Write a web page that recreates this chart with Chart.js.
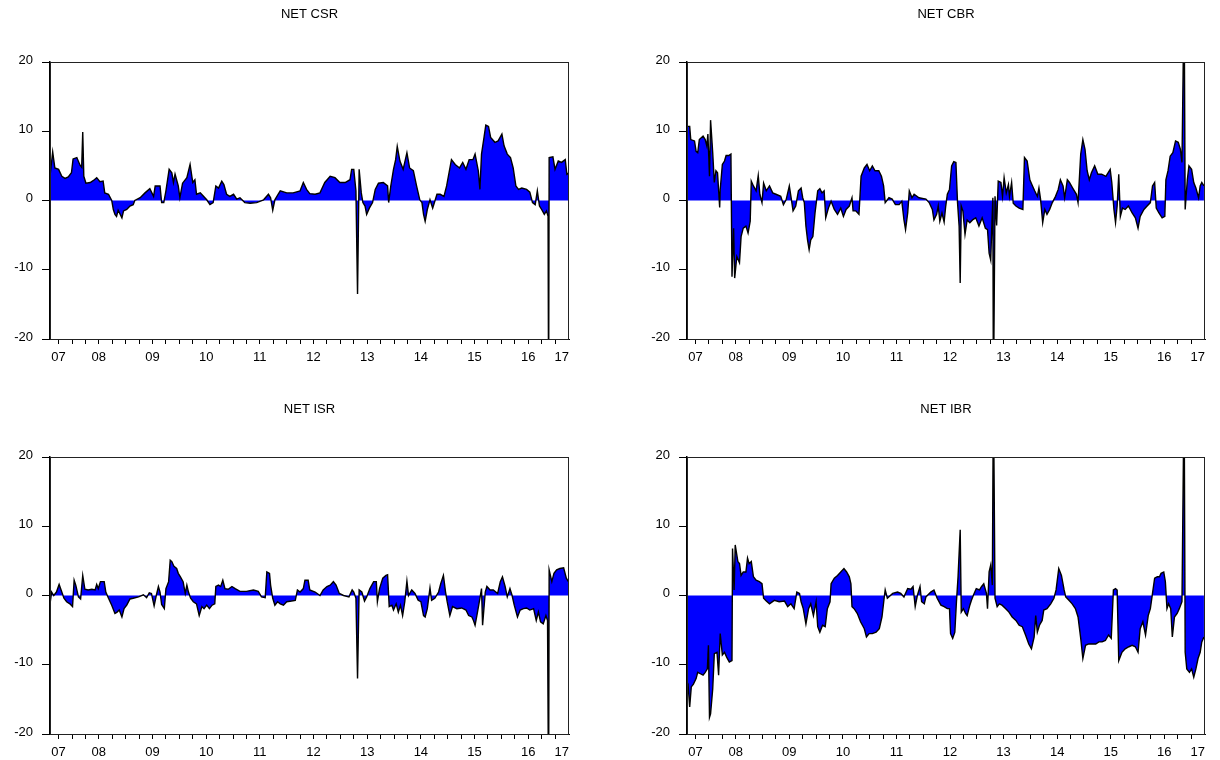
<!DOCTYPE html>
<html><head><meta charset="utf-8">
<script src="https://cdn.jsdelivr.net/npm/chart.js@4.4.0/dist/chart.umd.min.js"></script>
<style>
html,body{margin:0;padding:0;background:#fff;width:1220px;height:760px;overflow:hidden;}
canvas{position:absolute;}
</style></head><body>
<canvas id="c1" width="610" height="380" style="left:0;top:0"></canvas>
<canvas id="c2" width="583" height="380" style="left:637px;top:0"></canvas>
<canvas id="c3" width="610" height="380" style="left:0;top:395px"></canvas>
<canvas id="c4" width="583" height="380" style="left:637px;top:395px"></canvas>
<script>
// ---- axis labels ----
const yearLabels = ['07','08','09','10','11','12','13','14','15','16','17'];
const yearLabelPos = [2007.75,2008.5,2009.5,2010.5,2011.5,2012.5,2013.5,2014.5,2015.5,2016.5,2017.125];
const xMin = 2007.59, xMax = 2017.26;
const yTicks = [-20,-10,0,10,20];

// ---- NET CSR ----
const csrDates = [2007.59,2007.64,2007.68,2007.75,2007.81,2007.87,2007.93,2007.99,2008.02,2008.09,2008.15,2008.18,2008.20,2008.22,2008.26,2008.34,2008.40,2008.46,2008.52,2008.58,2008.61,2008.68,2008.74,2008.77,2008.80,2008.83,2008.86,2008.93,2008.96,2009.02,2009.08,2009.14,2009.17,2009.27,2009.36,2009.45,2009.52,2009.55,2009.64,2009.67,2009.71,2009.75,2009.81,2009.86,2009.89,2009.92,2009.98,2010.01,2010.06,2010.14,2010.20,2010.25,2010.29,2010.32,2010.39,2010.45,2010.51,2010.57,2010.63,2010.68,2010.73,2010.79,2010.83,2010.88,2010.94,2011.01,2011.07,2011.13,2011.22,2011.32,2011.44,2011.57,2011.66,2011.70,2011.74,2011.78,2011.84,2011.88,2012.00,2012.12,2012.25,2012.31,2012.37,2012.43,2012.53,2012.62,2012.71,2012.81,2012.90,2012.99,2013.09,2013.18,2013.21,2013.25,2013.29,2013.32,2013.35,2013.39,2013.42,2013.46,2013.49,2013.54,2013.60,2013.65,2013.71,2013.80,2013.88,2013.90,2013.94,2013.99,2014.03,2014.06,2014.11,2014.17,2014.24,2014.29,2014.36,2014.42,2014.48,2014.52,2014.55,2014.58,2014.62,2014.67,2014.72,2014.80,2014.86,2014.93,2014.98,2015.07,2015.14,2015.22,2015.28,2015.34,2015.40,2015.47,2015.51,2015.57,2015.60,2015.63,2015.68,2015.71,2015.76,2015.80,2015.88,2015.94,2016.01,2016.05,2016.11,2016.17,2016.22,2016.27,2016.32,2016.38,2016.47,2016.53,2016.58,2016.63,2016.67,2016.71,2016.75,2016.80,2016.84,2016.87,2016.88,2016.89,2016.96,2017.00,2017.06,2017.12,2017.19,2017.22,2017.26];
const csrValues = [3.5,7.0,4.7,4.5,3.5,3.2,3.4,4.0,6.0,6.2,5.1,4.8,9.9,3.5,2.5,2.6,2.9,3.3,2.7,2.8,1.1,0.9,0.0,-1.3,-2.0,-2.3,-1.4,-2.5,-1.5,-1.3,-0.8,-0.6,0,0.4,1.1,1.7,0.6,2.1,2.1,-0.3,-0.3,1.4,4.5,4.0,2.6,3.8,2.1,0.4,2.5,3.3,5.2,2.6,3.0,0.9,1.1,0.6,0.1,-0.6,-0.3,2.1,1.8,2.8,2.3,0.9,0.6,0.9,0.2,0.4,-0.3,-0.4,-0.3,0.1,0.9,0.4,-1.4,0.1,0.9,1.4,1.1,1.1,1.4,2.6,1.6,1.0,0.9,1.1,2.6,3.5,3.3,2.6,2.6,3.0,4.5,4.5,1.4,-13.5,4.5,1.1,-0.3,-0.8,-2.0,-1.1,-0.3,1.6,2.5,2.6,2.1,-0.3,2.1,4.5,5.9,7.8,5.7,4.5,6.9,4.7,4.3,2.1,0.1,-0.3,-2.0,-3.0,-1.3,0.1,-1.1,0.9,0.9,0.6,2.1,5.9,5.2,4.7,5.5,4.5,5.9,5.9,6.7,4.3,1.6,6.7,9.3,10.9,10.7,9.1,8.4,8.6,9.6,7.9,6.7,6.2,4.7,2.1,1.6,1.8,1.6,1.2,-0.3,-0.6,1.4,-0.8,-1.3,-2.0,-1.5,-2.3,-30,6.2,6.3,4.5,5.7,5.5,5.9,3.8,4.0];

// ---- NET CBR ----
const cbrDates = [2007.59,2007.64,2007.66,2007.73,2007.76,2007.79,2007.82,2007.89,2007.93,2007.96,2007.98,2008.01,2008.03,2008.07,2008.10,2008.13,2008.16,2008.20,2008.21,2008.25,2008.29,2008.32,2008.37,2008.41,2008.43,2008.46,2008.48,2008.52,2008.57,2008.60,2008.64,2008.69,2008.73,2008.77,2008.79,2008.83,2008.88,2008.92,2008.95,2008.99,2009.02,2009.07,2009.13,2009.19,2009.25,2009.34,2009.39,2009.44,2009.50,2009.53,2009.57,2009.62,2009.67,2009.72,2009.75,2009.78,2009.81,2009.84,2009.87,2009.90,2009.94,2009.98,2010.03,2010.07,2010.11,2010.15,2010.18,2010.23,2010.28,2010.34,2010.40,2010.46,2010.51,2010.56,2010.62,2010.67,2010.69,2010.74,2010.80,2010.84,2010.90,2010.95,2011.00,2011.05,2011.10,2011.17,2011.22,2011.26,2011.29,2011.36,2011.42,2011.48,2011.55,2011.60,2011.64,2011.67,2011.71,2011.74,2011.79,2011.83,2011.92,2012.05,2012.11,2012.17,2012.20,2012.25,2012.28,2012.31,2012.35,2012.39,2012.42,2012.45,2012.49,2012.53,2012.57,2012.61,2012.64,2012.67,2012.69,2012.71,2012.74,2012.78,2012.82,2012.87,2012.92,2012.98,2013.04,2013.10,2013.16,2013.20,2013.23,2013.26,2013.28,2013.30,2013.31,2013.34,2013.37,2013.40,2013.45,2013.48,2013.51,2013.55,2013.59,2013.61,2013.65,2013.68,2013.73,2013.79,2013.86,2013.89,2013.94,2013.99,2014.04,2014.08,2014.13,2014.16,2014.19,2014.23,2014.27,2014.31,2014.36,2014.41,2014.47,2014.52,2014.56,2014.61,2014.64,2014.69,2014.73,2014.79,2014.86,2014.89,2014.94,2014.98,2015.02,2015.06,2015.10,2015.14,2015.20,2015.26,2015.33,2015.41,2015.45,2015.49,2015.52,2015.56,2015.59,2015.62,2015.65,2015.68,2015.72,2015.77,2015.83,2015.90,2015.96,2016.01,2016.05,2016.12,2016.18,2016.24,2016.28,2016.32,2016.35,2016.40,2016.46,2016.51,2016.53,2016.57,2016.61,2016.66,2016.71,2016.76,2016.80,2016.83,2016.87,2016.89,2016.93,2016.96,2017.01,2017.05,2017.09,2017.14,2017.17,2017.20,2017.24];
const cbrValues = [10.7,10.7,8.8,8.6,7.1,6.9,8.8,9.3,8.8,7.9,9.6,3.5,11.6,6.9,2.6,4.3,4.0,-1.0,1.6,5.2,5.7,6.5,6.5,6.7,-11.0,-4.0,-11.2,-8.1,-9.0,-5.2,-4.0,-3.7,-4.7,-3.0,2.8,2.1,1.4,3.6,0.9,-0.3,2.5,1.4,2.1,1.1,0.9,0.6,-0.6,0.1,2.1,0.6,-1.5,-0.8,1.4,1.8,0.4,-0.3,-3.7,-5.7,-7.1,-5.7,-5.2,-1.8,1.4,1.7,1.1,1.4,-2.5,-1.1,-0.1,-1.3,-2.0,-1.1,-2.3,-1.3,-0.8,0.4,-1.5,-1.5,-2.0,3.5,4.7,5.2,4.3,5.0,4.3,4.3,3.5,2.1,-0.3,0.4,0.2,-0.6,-0.6,-0.1,-2.8,-4.2,-1.8,1.4,0.4,0.9,0.4,0.2,-0.3,-1.3,-2.8,-2.0,-0.8,-3.0,-1.8,-3.1,-0.8,0.9,1.6,5.0,5.6,5.5,-0.3,-3.7,-11.9,-0.8,-1.5,-4.9,-2.8,-3.2,-2.8,-2.5,-3.7,-2.5,-4.0,-4.2,-7.6,-8.6,-3.7,0.4,-30,0.6,-3.6,2.8,2.6,0.6,3.3,1.1,2.3,0.6,2.6,-0.4,-0.8,-1.1,-1.3,6.2,5.7,3.0,2.1,1.4,0.6,1.8,0.2,-3.2,-1.3,-2.0,-1.3,-0.3,0.6,1.6,3.0,2.1,0.4,3.0,2.6,1.8,0.9,-0.3,6.7,8.8,7.4,4.3,3.0,4.0,5.0,3.8,3.8,3.5,4.0,4.5,2.6,-1.3,-3.2,-0.8,3.8,-2.3,-1.1,-1.3,-0.8,-1.8,-2.5,-4.0,-2.3,-1.3,-0.8,-0.3,2.1,2.6,-1.1,-1.8,-2.5,-2.3,3.0,4.3,6.4,6.9,8.6,8.4,7.4,5.5,30,-1.3,3.0,5.0,4.5,2.6,1.8,0.4,2.1,2.6,2.1];

// ---- NET ISR ----
const isrDates = [2007.59,2007.62,2007.66,2007.71,2007.76,2007.81,2007.85,2007.90,2007.96,2008.01,2008.04,2008.07,2008.12,2008.16,2008.20,2008.24,2008.30,2008.37,2008.43,2008.46,2008.49,2008.53,2008.60,2008.63,2008.68,2008.74,2008.80,2008.84,2008.88,2008.93,2008.97,2009.02,2009.08,2009.14,2009.24,2009.33,2009.39,2009.44,2009.48,2009.53,2009.57,2009.61,2009.64,2009.67,2009.72,2009.75,2009.80,2009.83,2009.86,2009.90,2009.95,2009.98,2010.02,2010.07,2010.11,2010.14,2010.17,2010.21,2010.26,2010.32,2010.37,2010.42,2010.46,2010.51,2010.56,2010.61,2010.66,2010.68,2010.73,2010.77,2010.81,2010.85,2010.91,2010.98,2011.04,2011.13,2011.25,2011.38,2011.47,2011.53,2011.60,2011.63,2011.68,2011.70,2011.74,2011.78,2011.83,2011.88,2011.94,2012.00,2012.09,2012.16,2012.20,2012.25,2012.31,2012.34,2012.40,2012.43,2012.53,2012.62,2012.68,2012.75,2012.81,2012.87,2012.92,2012.98,2013.06,2013.16,2013.22,2013.25,2013.29,2013.32,2013.35,2013.40,2013.45,2013.49,2013.55,2013.62,2013.67,2013.69,2013.73,2013.79,2013.85,2013.88,2013.91,2013.96,2013.99,2014.04,2014.08,2014.12,2014.16,2014.20,2014.24,2014.27,2014.33,2014.39,2014.45,2014.50,2014.55,2014.58,2014.62,2014.67,2014.70,2014.76,2014.83,2014.87,2014.92,2014.96,2014.99,2015.04,2015.09,2015.17,2015.26,2015.34,2015.39,2015.45,2015.48,2015.51,2015.55,2015.60,2015.63,2015.65,2015.70,2015.73,2015.79,2015.85,2015.93,2015.98,2016.02,2016.07,2016.11,2016.16,2016.20,2016.24,2016.30,2016.35,2016.41,2016.47,2016.53,2016.60,2016.65,2016.69,2016.73,2016.78,2016.83,2016.86,2016.88,2016.89,2016.94,2016.98,2017.03,2017.09,2017.16,2017.21,2017.25];
const isrValues = [-1.2,0.5,0.0,0.5,1.6,0.5,-0.4,-0.9,-1.2,-1.6,2.2,1.5,-0.2,-0.5,2.9,0.9,0.8,0.9,0.8,1.6,1.0,2.0,2.0,0.5,-0.4,-1.4,-2.6,-2.4,-2.1,-3.1,-1.9,-1.4,-0.5,-0.4,-0.2,0.1,-0.3,0.4,0.3,-1.5,0.0,1.3,0.5,-1.3,-1.9,1.0,2.0,5.1,4.9,4.2,3.9,3.2,2.7,2.0,0.3,1.5,0.5,-0.4,-0.9,-1.2,-2.9,-1.6,-1.9,-1.4,-1.9,-1.4,-1.2,1.3,1.5,1.3,2.2,1.0,0.9,1.3,1.0,0.6,0.6,0.8,0.6,-0.2,-0.3,3.4,3.2,1.5,-0.4,-1.4,-0.9,-1.2,-1.4,-0.9,-0.8,-0.7,0.8,0.5,1.0,2.2,2.2,0.8,0.5,0.0,0.8,1.3,1.5,2.0,1.5,0.3,0.0,-0.2,0.8,0.5,-0.4,-12.0,0.8,0.5,-0.8,-0.2,1.0,2.0,2.0,-0.9,1.0,2.5,2.9,3.0,-1.6,-1.4,-2.1,-1.2,-2.4,-1.4,-2.9,-0.9,2.1,0.0,0.8,0.3,-0.7,-0.9,-2.9,-3.1,-1.9,1.1,-0.7,-0.4,0.5,1.7,2.9,0.5,-0.9,-2.9,-1.6,-1.9,-1.8,-2.1,-2.9,-3.1,-3.6,-4.3,-2.6,-0.4,1.0,-4.3,0.5,1.3,0.8,0.8,0.3,2.0,2.7,1.3,-0.2,1.0,0.0,-1.4,-3.1,-2.1,-1.9,-1.8,-2.1,-1.9,-3.6,-2.4,-3.8,-4.1,-2.9,-3.6,-30,3.7,2.0,3.2,3.7,3.9,4.0,2.5,2.0];

// ---- NET IBR ----
const ibrDates = [2007.59,2007.61,2007.64,2007.67,2007.71,2007.76,2007.79,2007.84,2007.89,2007.93,2007.97,2007.99,2008.01,2008.03,2008.07,2008.10,2008.15,2008.18,2008.21,2008.25,2008.29,2008.33,2008.38,2008.43,2008.44,2008.47,2008.49,2008.54,2008.57,2008.60,2008.64,2008.69,2008.72,2008.75,2008.79,2008.83,2008.88,2008.94,2008.99,2009.02,2009.07,2009.13,2009.22,2009.31,2009.41,2009.47,2009.53,2009.59,2009.64,2009.69,2009.72,2009.76,2009.81,2009.86,2009.90,2009.95,2010.00,2010.03,2010.07,2010.12,2010.17,2010.21,2010.26,2010.28,2010.34,2010.40,2010.46,2010.52,2010.57,2010.62,2010.65,2010.67,2010.71,2010.77,2010.83,2010.90,2010.94,2010.99,2011.05,2011.12,2011.18,2011.23,2011.27,2011.29,2011.33,2011.43,2011.52,2011.58,2011.64,2011.71,2011.77,2011.81,2011.85,2011.89,2011.94,2011.97,2012.02,2012.05,2012.14,2012.20,2012.26,2012.33,2012.39,2012.45,2012.49,2012.51,2012.55,2012.59,2012.62,2012.65,2012.69,2012.71,2012.75,2012.79,2012.82,2012.87,2012.90,2012.94,2012.99,2013.05,2013.09,2013.13,2013.18,2013.20,2013.23,2013.26,2013.29,2013.31,2013.34,2013.38,2013.42,2013.47,2013.54,2013.60,2013.66,2013.73,2013.79,2013.85,2013.91,2013.97,2014.02,2014.07,2014.10,2014.13,2014.17,2014.22,2014.25,2014.31,2014.38,2014.44,2014.48,2014.53,2014.58,2014.63,2014.66,2014.72,2014.78,2014.84,2014.89,2014.94,2014.98,2015.03,2015.09,2015.15,2015.22,2015.28,2015.34,2015.40,2015.46,2015.51,2015.55,2015.59,2015.62,2015.65,2015.71,2015.77,2015.84,2015.90,2015.96,2016.01,2016.05,2016.10,2016.15,2016.20,2016.24,2016.28,2016.32,2016.37,2016.41,2016.44,2016.49,2016.52,2016.55,2016.58,2016.62,2016.65,2016.69,2016.74,2016.78,2016.83,2016.87,2016.89,2016.92,2016.97,2017.01,2017.05,2017.09,2017.13,2017.17,2017.20,2017.24];
const ibrValues = [-12.5,-12.8,-16.1,-13.2,-12.8,-12.0,-11.1,-11.3,-11.5,-11.1,-10.6,-7.2,-17.6,-17.1,-13.5,-8.4,-8.2,-11.5,-5.5,-8.6,-8.2,-8.9,-9.6,-9.4,6.8,0.8,7.3,4.9,4.6,2.9,3.4,3.4,5.4,4.6,4.9,2.7,2.2,2.0,1.7,-0.4,-0.8,-1.2,-0.7,-0.9,-0.8,-1.6,-1.2,-1.9,0.5,0.3,-0.9,-1.9,-4.1,-1.9,-1.2,-2.9,-0.9,-4.5,-5.3,-4.3,-4.5,-1.9,-0.9,1.7,2.5,2.9,3.4,3.9,3.4,2.7,1.7,-1.6,-1.9,-2.6,-3.8,-4.8,-6.0,-5.5,-5.5,-5.3,-4.8,-3.1,-0.4,0.8,-0.4,0.3,0.5,0.3,-0.2,1.0,0.9,1.3,-1.6,0.0,1.3,-0.9,-1.2,-0.2,0.5,0.8,-0.4,-1.4,-1.6,-1.9,-1.9,-5.5,-6.2,-5.3,-0.9,2.7,9.5,-2.4,-1.9,-2.6,-2.9,-1.4,-0.7,0.1,1.0,0.8,1.3,1.7,0.3,-1.9,3.4,4.4,1.5,30,-0.4,-1.6,-1.2,-1.4,-1.9,-2.4,-3.1,-3.6,-4.3,-4.5,-5.7,-7.0,-7.7,-6.0,-2.9,-5.3,-4.3,-3.6,-2.1,-1.9,-1.2,-0.4,0.8,3.9,2.9,0.8,-0.2,-0.7,-1.2,-1.9,-3.1,-6.2,-9.1,-7.2,-7.0,-7.0,-7.0,-6.7,-6.7,-6.5,-5.7,-6.2,0.8,1.0,0.8,-9.4,-8.2,-7.7,-7.4,-7.2,-7.4,-8.2,-4.8,-3.8,-5.7,-2.9,-1.9,0.3,2.5,2.7,2.7,3.2,3.4,2.0,-1.9,-1.2,-1.9,-6.0,-3.1,-2.6,-1.9,-0.9,30,-8.2,-10.6,-11.1,-10.6,-11.8,-10.6,-9.1,-8.2,-6.7,-6.0];

// ---- drawing ----
const FONT = "'Liberation Sans', Arial, Helvetica, sans-serif";
Chart.defaults.font.family = FONT;
Chart.defaults.color = '#000';

const quarterTicks = [];
for (let y = 2007.75; y <= 2017.001; y += 0.25) quarterTicks.push(Math.round(y * 100) / 100);

const framePlugin = {
  id: 'frame',
  afterDraw(chart) {
    const a = chart.chartArea, c = chart.ctx;
    c.save();
    c.strokeStyle = '#222';
    c.lineWidth = 1;
    c.strokeRect(a.left + 0.5, a.top + 0.5, a.right - a.left - 1, a.bottom - a.top);
    c.restore();
  }
};

function makeChart(id, title, dates, values, padRight) {
  const allTicks = quarterTicks.concat([2017.125]);
  new Chart(document.getElementById(id), {
    type: 'line',
    data: {
      datasets: [{
        data: dates.map((d, i) => ({ x: d, y: values[i] })),
        borderColor: '#000',
        borderWidth: 1.4,
        backgroundColor: '#0000ff',
        fill: 'origin',
        pointRadius: 0,
        tension: 0,
        clip: 0
      }]
    },
    options: {
      responsive: false,
      animation: false,
      layout: { padding: { left: 0, right: padRight, top: 0, bottom: 11 } },
      plugins: {
        legend: { display: false },
        tooltip: { enabled: false },
        title: {
          display: true, text: title, fullSize: false, color: '#000',
          font: { size: 13, weight: 'normal', family: FONT, lineHeight: '16px' },
          padding: { top: 6, bottom: 40 }
        }
      },
      scales: {
        x: {
          type: 'linear', min: xMin, max: xMax,
          afterFit(s) { s.height = 30; },
          afterBuildTicks(s) { s.ticks = allTicks.map(v => ({ value: v })); },
          ticks: {
            autoSkip: false, maxRotation: 0, minRotation: 0, padding: 6,
            font: { size: 13, family: FONT }, color: '#000',
            callback(v) {
              const k = yearLabelPos.findIndex(p => Math.abs(p - v) < 0.001);
              return k >= 0 ? yearLabels[k] : '';
            }
          },
          grid: {
            drawOnChartArea: false, drawTicks: true, tickLength: 5,
            tickColor: (ctx) => (ctx.tick && Math.abs(ctx.tick.value - 2017.125) < 0.001) ? 'rgba(0,0,0,0)' : '#000'
          },
          border: { display: true, color: '#000', width: 1 }
        },
        y: {
          min: -20, max: 20,
          afterFit(s) { s.width = 50; },
          afterBuildTicks(s) { s.ticks = yTicks.map(v => ({ value: v })); },
          ticks: { padding: 9, labelOffset: -2, font: { size: 13, family: FONT }, color: '#000' },
          grid: { drawOnChartArea: false, drawTicks: true, tickLength: 8, tickColor: '#000' },
          border: { display: true, color: '#000', width: 1.5 }
        }
      }
    },
    plugins: [framePlugin]
  });
}

makeChart('c1', 'NET CSR', csrDates, csrValues, 41);
makeChart('c2', 'NET CBR', cbrDates, cbrValues, 15);
makeChart('c3', 'NET ISR', isrDates, isrValues, 41);
makeChart('c4', 'NET IBR', ibrDates, ibrValues, 15);
</script>
</body></html>
